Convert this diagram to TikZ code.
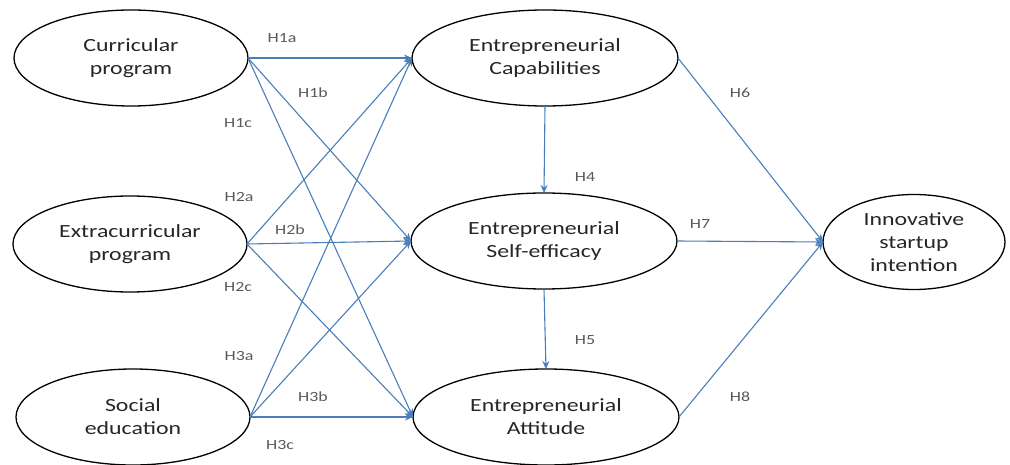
\documentclass[tikz,border=0pt]{standalone}
\usepackage{fontspec}
\usepackage{tikz}
\usetikzlibrary{shapes.geometric}
\usetikzlibrary{arrows.meta}

\newfontfamily\diagfont{Carlito}[FakeStretch=1.28]
\definecolor{linkblue}{HTML}{4A7EBB}
\definecolor{hypgray}{HTML}{595959}

\begin{document}
\begin{tikzpicture}[
        x = 1pt, y = -1pt,
        latent/.style = {
            draw,
            ellipse,
            line width = 1.3pt,
            minimum width = #1,
            minimum height = 96pt,
            inner sep = 0pt,
            outer sep = 0pt,
            align = center,
            text = black!85,
            font = \diagfont\fontsize{18.6}{23}\selectfont
        },
        latent/.default = 234pt,
        hyp/.style = {
            text = hypgray,
            font = \diagfont\fontsize{14}{16}\selectfont
        },
        link/.style = {
            draw = linkblue,
            line width = 1.1pt,
            -{Stealth[length=8pt, width=7pt]}
        }
        ]
        \useasboundingbox (0,0) rectangle (1010,465);
%
        \node[latent] (cur) at (131,58) {Curricular\\program};
        \node[latent] (ext) at (130,244) {Extracurricular\\program};
        \node[latent] (soc) at (133,417) {Social\\education};
%
        \node[latent=266pt] (cap) at (545,58) {Entrepreneurial\\Capabilities};
        \node[latent=266pt] (eff) at (544,241) {Entrepreneurial\\Self-efficacy};
        \node[latent=266pt] (att) at (546,417) {Entrepreneurial\\Attitude};
%
        \node[latent=182pt, minimum height = 95pt] (inn) at (914,242) {Innovative\\startup\\intention};
%
%
        \draw[link] (cur.east) -- (cap.west);
        \draw[link] (cur.east) -- (eff.west);
        \draw[link] (cur.east) -- (att.west);
%
        \draw[link] (ext.east) -- (cap.west);
        \draw[link] (ext.east) -- (eff.west);
        \draw[link] (ext.east) -- (att.west);
%
        \draw[link] (soc.east) -- (cap.west);
        \draw[link] (soc.east) -- (eff.west);
        \draw[link] (soc.east) -- (att.west);
%
        \draw[link] (cap.south) -- (eff.north);
        \draw[link] (eff.south) -- (att.north);
%
        \draw[link] (cap.east) -- (inn.west);
        \draw[link] (eff.east) -- (inn.west);
        \draw[link] (att.east) -- (inn.west);
%
%
        \node[hyp] (h1a) at (282,38) {H1a};
        \node[hyp] (h1b) at (313,93) {H1b};
        \node[hyp] (h1c) at (238,123) {H1c};
%
        \node[hyp] (h2a) at (239,197) {H2a};
        \node[hyp] (h2b) at (290,230) {H2b};
        \node[hyp] (h2c) at (238,287) {H2c};
%
        \node[hyp] (h3a) at (239,356) {H3a};
        \node[hyp] (h3b) at (313,397) {H3b};
        \node[hyp] (h3c) at (280,445) {H3c};
%
        \node[hyp] (h4) at (585,177) {H4};
        \node[hyp] (h5) at (585,340) {H5};
        \node[hyp] (h6) at (740,93) {H6};
        \node[hyp] (h7) at (700,224) {H7};
        \node[hyp] (h8) at (740,397) {H8};
\end{tikzpicture}
\end{document}
